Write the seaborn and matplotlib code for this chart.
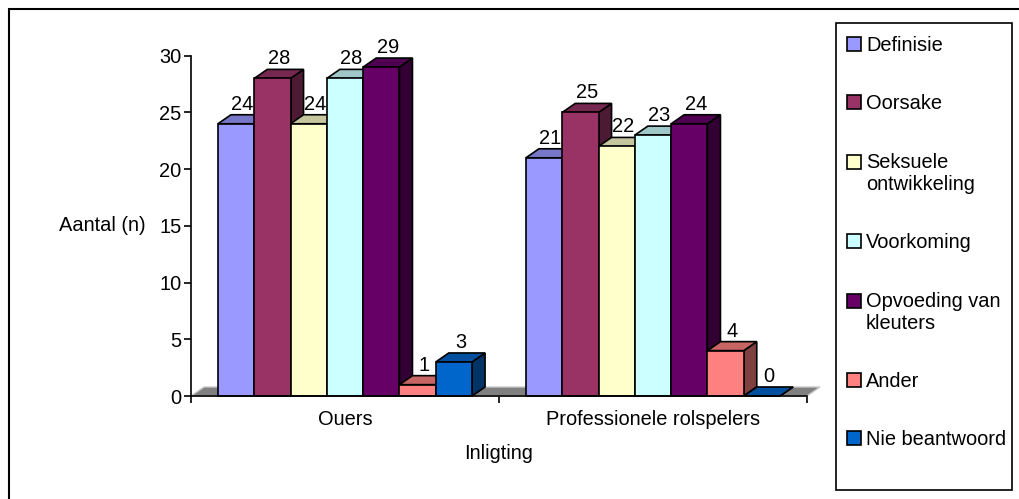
import warnings
warnings.filterwarnings("ignore")

import numpy as np
import pandas as pd
import matplotlib
matplotlib.use("Agg")
import matplotlib.pyplot as plt
from matplotlib.patches import Polygon, Rectangle
from matplotlib.colors import to_rgb
import seaborn as sns

###### DATA ######
groups = ['Ouers', 'Professionele rolspelers']
themes = ['Definisie', 'Oorsake', 'Seksuele\nontwikkeling', 'Voorkoming',
          'Opvoeding van\nkleuters', 'Ander', 'Nie beantwoord']
ouers = [24, 28, 24, 28, 29, 1, 3]
professionele = [21, 25, 22, 23, 24, 4, 0]
colors = ['#9999FF', '#993366', '#FFFFCC', '#CCFFFF', '#660066', '#FF8080', '#0066CC']
yticks = [0, 5, 10, 15, 20, 25, 30]

df = pd.DataFrame({
    'Inligting': np.repeat(groups, len(themes)),
    'Tema': themes * 2,
    'Aantal': ouers + professionele,
})

###### STYLE ######
FS = 14.4
sns.set_theme(style='white')
plt.rcParams['font.family'] = ['Liberation Sans', 'DejaVu Sans']
plt.rcParams['font.size'] = FS
plt.rcParams['text.color'] = 'black'


def shade(c, f):
    # darker version of a colour for the 3d faces
    return tuple(v * f for v in to_rgb(c))


W, H, DPI = 1020, 499, 100
fig = plt.figure(figsize=(W / DPI, H / DPI), dpi=DPI)
ax = fig.add_axes([191 / W, 103 / H, 616 / W, 340.3 / H])

sns.barplot(data=df, x='Inligting', y='Aantal', hue='Tema', order=groups,
            hue_order=themes, palette=colors, saturation=1, width=0.825,
            errorbar=None, edgecolor='black', linewidth=1.2, ax=ax)

ax.set_xlim(-0.5, 1.5)
ax.set_ylim(0, 30)
ax.set_yticks(yticks)

# depth of the pseudo 3d effect, pixels -> data units
dx_px, dy_px = 13, 9
dxd = dx_px / 616 * 2.0
dyd = dy_px / 340.3 * 30

# grey floor
floor = Polygon([(-0.5, 0), (1.5, 0), (1.5 + dxd, dyd), (-0.5 + dxd, dyd)],
                closed=True, facecolor='#808080', edgecolor='#C8C8C8',
                lw=1.0, zorder=2.5, clip_on=False)
ax.add_patch(floor)

# top and side faces for every bar + value labels
for i, cont in enumerate(ax.containers):
    for bar in cont:
        x0 = bar.get_x()
        w = bar.get_width()
        h = bar.get_height()
        bar.set_zorder(3 + i * 0.1 + 0.05)
        bar.set_clip_on(False)
        side = Polygon([(x0 + w, 0), (x0 + w, h), (x0 + w + dxd, h + dyd), (x0 + w + dxd, dyd)],
                       closed=True, facecolor=shade(colors[i], 0.5), edgecolor='black',
                       lw=1.2, zorder=3 + i * 0.1, clip_on=False)
        top = Polygon([(x0, h), (x0 + dxd, h + dyd), (x0 + w + dxd, h + dyd), (x0 + w, h)],
                      closed=True, facecolor=shade(colors[i], 0.78), edgecolor='black',
                      lw=1.2, zorder=3 + i * 0.1 + 0.01, clip_on=False)
        ax.add_patch(side)
        ax.add_patch(top)
        ax.annotate(f'{h:g}', xy=(x0 + w / 2, h), xytext=(dx_px / 2, 10),
                    textcoords='offset pixels', ha='center', va='bottom',
                    fontsize=FS, color='black', zorder=5)

# axes styling
sns.despine(ax=ax, top=True, right=True)
for s in ['left', 'bottom']:
    ax.spines[s].set_color('black')
    ax.spines[s].set_linewidth(1.2)
    ax.spines[s].set_zorder(6)

ax.tick_params(axis='y', which='major', left=True, length=5, width=1.2,
               color='black', pad=2, labelsize=FS, labelcolor='black')
# category borders as major ticks, names on minor ticks
ax.set_xticks([-0.5, 0.5, 1.5])
ax.set_xticklabels(['', '', ''])
ax.set_xticks([0, 1], minor=True)
ax.set_xticklabels(groups, minor=True)
ax.tick_params(axis='x', which='major', bottom=True, length=5, width=1.2, color='black')
ax.tick_params(axis='x', which='minor', bottom=True, length=0, pad=10,
               labelsize=FS, labelcolor='black')

ax.set_ylabel('Aantal (n)', rotation=0, ha='center', va='center', fontsize=FS, color='black')
ax.yaxis.set_label_coords(-0.1445, 0.5)
ax.set_xlabel('Inligting', fontsize=FS, color='black', va='center')
ax.xaxis.set_label_coords(0.5, -0.1675)

# legend on the right
sns.move_legend(ax, 'upper left', bbox_to_anchor=(847 / W, 1 - 36 / H),
                bbox_transform=fig.transFigure, title=None, frameon=False,
                handlelength=0.7, handleheight=0.7, handletextpad=0.25,
                labelspacing=1.97, borderpad=0, borderaxespad=0, fontsize=FS)
leg = ax.get_legend()
for t in leg.get_texts():
    t.set_linespacing(1.2)
    t.set_color('black')
for hnd, lab in zip(leg.legend_handles, themes):
    hnd.set_edgecolor('black')
    hnd.set_linewidth(1.2)
    if '\n' in lab:
        # square next to the first line, as in the original
        hnd.set_y(hnd.get_y() + 0.6 * FS)

# legend box and outer frame (frame runs off the right/bottom edge)
fig.patches.append(Rectangle((836 / W, 9 / H), 176 / W, 467 / H, transform=fig.transFigure,
                             fill=False, edgecolor='black', lw=1.2))
fig.patches.append(Rectangle((9 / W, -20 / H), 1030 / W, 510 / H, transform=fig.transFigure,
                             fill=False, edgecolor='black', lw=1.5, clip_on=False))

fig.savefig('out.png', dpi=DPI)
